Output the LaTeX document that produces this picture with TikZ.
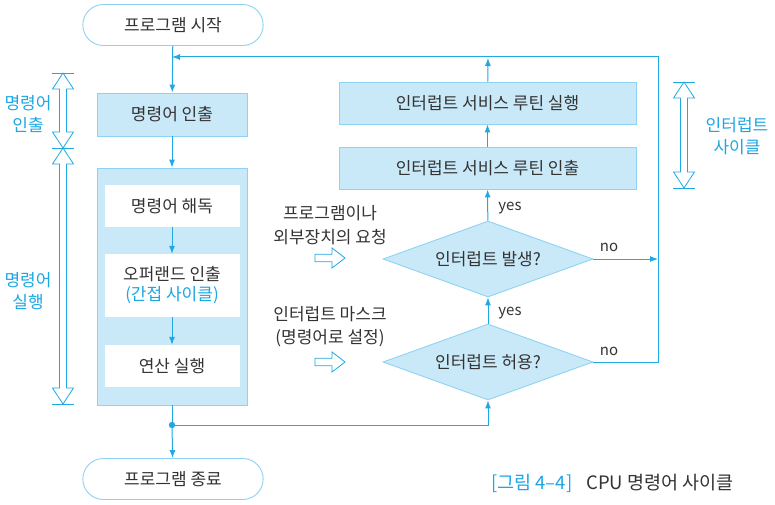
\documentclass[tikz,border=0pt]{standalone}
\usepackage{fontspec}
\setmainfont{Noto Sans CJK KR}
\usetikzlibrary{arrows.meta,shapes.geometric,shapes.misc}
\definecolor{ln}{HTML}{1FA8E1}
\definecolor{bx}{HTML}{C9E9F9}
\definecolor{bd}{HTML}{8ED3F3}
\definecolor{tx}{HTML}{333333}
\definecolor{bt}{HTML}{1CA6E2}
\tikzset{
  every node/.style={font=\fontsize{17}{22}\selectfont, text=tx},
  term/.style={rounded rectangle, draw=bd, line width=0.9pt, fill=white, minimum width=187pt, minimum height=41pt},
  pbox/.style={rectangle, draw=bd, line width=0.9pt, fill=bx},
  wbox/.style={rectangle, fill=white, minimum width=135pt, align=center},
  dia/.style={diamond, aspect=2.76, draw=bd, line width=0.9pt, fill=bx, minimum width=210pt, minimum height=76pt, inner sep=0pt},
  conn/.style={draw=ln, line width=1pt},
  ar/.style={conn, -{Latex[length=8pt,width=6pt]}},
  hol/.style={draw=ln, line width=0.8pt, fill=white},
  side/.style={text=bt, align=center, font=\fontsize{17}{22}\selectfont},
  lab/.style={font=\fontsize{15}{18}\selectfont},
  captxt/.style={anchor=west, inner sep=0pt, font=\fontsize{18.5}{22}\selectfont}
}
\newcommand{\hollowvert}[3]{%
  \draw[hol] (#1,#2) -- ({#1+10.5},{#2+16}) -- ({#1+3.5},{#2+16}) -- ({#1+3.5},{#3-16}) -- ({#1+10.5},{#3-16}) -- (#1,#3) -- ({#1-10.5},{#3-16}) -- ({#1-3.5},{#3-16}) -- ({#1-3.5},{#2+16}) -- ({#1-10.5},{#2+16}) -- cycle;
  \draw[draw=ln, line width=0.8pt] ({#1-11},#2) -- ({#1+11},#2) ({#1-11},#3) -- ({#1+11},#3);}
\newcommand{\hollowright}[2]{%
  \draw[hol] (315,{#2-3.8}) -- (332,{#2-3.8}) -- (332,{#2-10}) -- (345,#2) -- (332,{#2+10}) -- (332,{#2+3.8}) -- (315,{#2+3.8}) -- cycle;}
\begin{document}
\begin{tikzpicture}[x=1pt,y=-1pt]
\useasboundingbox (0,0) rectangle (775,505);
% left column
\node[term] (start) at (173,25) {프로그램 시작};
\node[pbox, minimum width=150pt, minimum height=43pt] (fetch) at (172,114.5) {명령어 인출};
\node[pbox, minimum width=150pt, minimum height=237pt] (exec) at (172,286.5) {};
\node[wbox, minimum height=42pt] (decode) at (172,206) {명령어 해독};
\node[wbox, minimum height=63pt] (operand) at (172,285.5) {오퍼랜드 인출\\[-2pt]{\color{bt}(간접 사이클)}};
\node[wbox, minimum height=42pt] (compute) at (172,366) {연산 실행};
\node[term] (end) at (173,479) {프로그램 종료};
% right column
\node[pbox, minimum width=297pt, minimum height=42pt] (isre) at (487.5,103) {인터럽트 서비스 루틴 실행};
\node[pbox, minimum width=297pt, minimum height=42pt] (isrf) at (487.5,168) {인터럽트 서비스 루틴 인출};
\node[dia] (occur) at (488,259) {인터럽트 발생?};
\node[dia] (allow) at (488,362) {인터럽트 허용?};
% coordinates
\coordinate (dot) at (172,425);
\coordinate (fb) at (172,57);
\coordinate (rt) at (658,57);
\coordinate (rm) at (658,259);
\coordinate (rb) at (658,362);
\coordinate (isrtop) at (488,58);
% connectors
\draw[ar] (start) -- (fetch);
\draw[ar] (fetch) -- (exec);
\draw[ar] (decode) -- (operand);
\draw[ar] (operand) -- (compute);
\draw[conn] (exec.south) -- (dot);
\draw[ar] (dot) -- (end);
\draw[ar] (dot) -| (allow.south);
\fill[ln] (dot) circle (3.2pt);
\draw[ar] (allow) -- (occur);
\draw[ar] (occur) -- (isrf);
\draw[ar] (isrf) -- (isre);
\draw[ar] (isre) -- (isrtop);
\draw[ar] (allow.east) -- (rb) -- (rt) -- (fb);
\draw[ar] (occur.east) -- (rm);
% labels
\node[lab] (y1) at (510,208) {yes};
\node[lab] (y2) at (510,313) {yes};
\node[lab] (n1) at (609,247) {no};
\node[lab] (n2) at (609,351) {no};
% request texts
\node[align=center, font=\fontsize{17}{24}\selectfont] (req) at (330,225) {프로그램이나\\외부장치의 요청};
\node[align=center, font=\fontsize{17}{23}\selectfont] (mask) at (330,327) {인터럽트 마스크\\(명령어로 설정)};
\hollowright{315}{258}
\hollowright{315}{362}
% side arrows
\hollowvert{63}{73}{148}
\hollowvert{63}{148}{404}
\hollowvert{684}{82}{188}
\node[side] (sf) at (28,114) {명령어\\인출};
\node[side] (se) at (28,291) {명령어\\실행};
\node[side] (si) at (737,136) {인터럽트\\사이클};
% caption
\node[captxt, text=bt] (cap1) at (491,483) {[그림 4–4]};
\node[captxt] (cap2) at (586,483) {CPU 명령어 사이클};
\end{tikzpicture}
\end{document}
